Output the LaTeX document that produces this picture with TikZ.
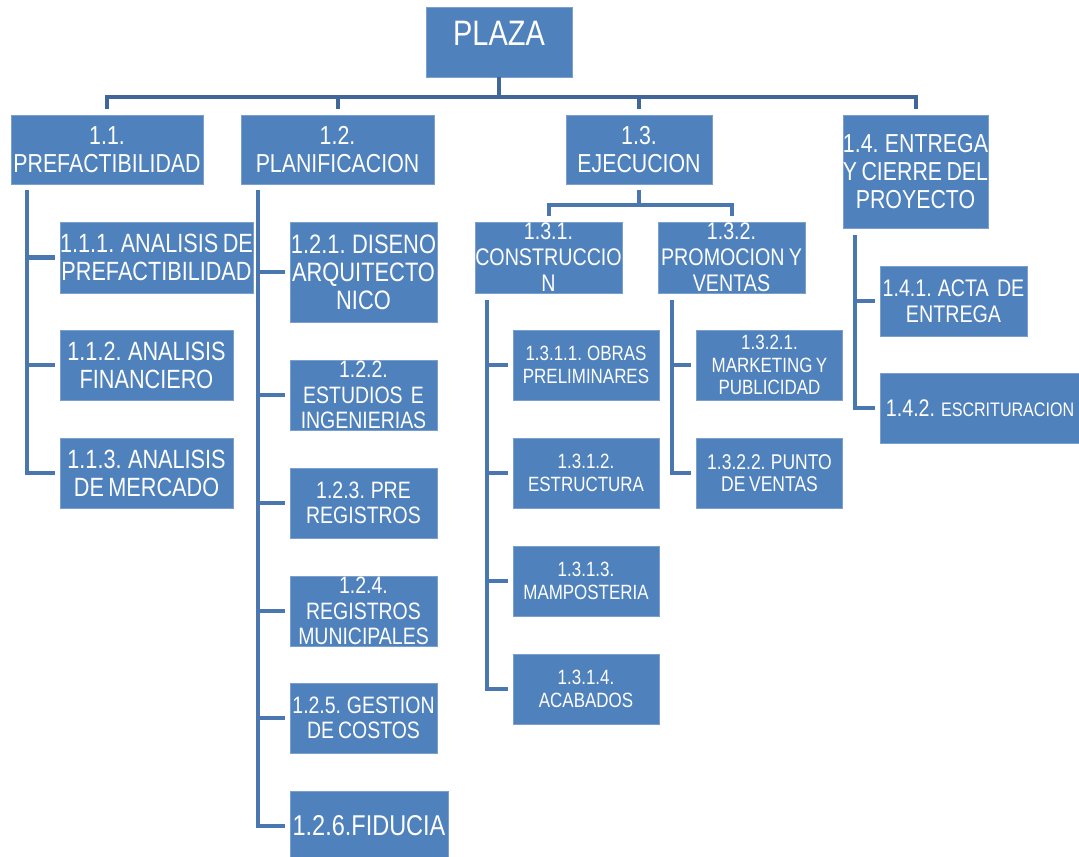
\documentclass[tikz,border=0pt]{standalone}
\usepackage{fontspec}
\setmainfont{Liberation Sans}[FakeStretch=0.82,WordSpace=0.75]

\definecolor{wbsfill}{RGB}{79,129,189}
\definecolor{wbsline}{RGB}{74,119,176}
\definecolor{wbsbus}{RGB}{63,103,154}

\tikzset{
  wbsbox/.style={fill=wbsfill, draw=wbsfill!75!white, line width=0.4pt, text=white, inner sep=0pt, align=center},
  bw/.style={minimum width=#1*0.75pt},
  bh/.style={minimum height=#1*0.75pt},
  bus/.style={draw=wbsbus, line width=3pt},
  branch/.style={draw=wbsline, line width=3.2pt, shorten >=3.75pt},
  lvlone/.style={font=\fontsize{19.5}{21}\selectfont},
  lvltwo/.style={font=\fontsize{19.8}{21}\selectfont},
  lvlsmall/.style={font=\fontsize{17.8}{19}\selectfont},
  lvlsub/.style={font=\fontsize{18}{19.5}\selectfont},
  lvlleaf/.style={font=\fontsize{15.5}{16.8}\selectfont}
}

\begin{document}
\begin{tikzpicture}[x=0.75pt,y=0.75pt,yscale=-1,xscale=1]
        \useasboundingbox (0,0) rectangle (1079,857);

        % Root
        \node [wbsbox, bw=146, bh=70] (plaza) at (499,42) {};
        \node [text=white, font=\fontsize{26.5}{30}\selectfont] (plazatxt) at (499,33) {PLAZA};

        % First level
        \node [wbsbox, bw=192, bh=69, lvlone] (p11) at (107,149.5) {1.1.\\PREFACTIBILIDAD};
        \node [wbsbox, bw=193, bh=69, lvlone] (p12) at (337.5,149.5) {1.2.\\PLANIFICACION};
        \node [wbsbox, bw=146, bh=69, lvlone] (p13) at (639,149.5) {1.3.\\EJECUCION};
        \node [wbsbox, bw=145, bh=113, lvlone] (p14) at (915.5,171.5) {1.4. ENTREGA\\Y CIERRE DEL\\PROYECTO};

        % Under 1.1
        \node [wbsbox, bw=193, bh=71, lvltwo] (p111) at (156.5,257.5) {1.1.1. ANALISIS DE\\PREFACTIBILIDAD};
        \node [wbsbox, bw=173, bh=70, lvltwo] (p112) at (146.5,365) {1.1.2. ANALISIS\\FINANCIERO};
        \node [wbsbox, bw=173, bh=70, lvltwo] (p113) at (146.5,473) {1.1.3. ANALISIS\\DE MERCADO};

        % Under 1.2
        \node [wbsbox, bw=147, bh=100, font=\fontsize{20}{21}\selectfont] (p121) at (363.5,272) {1.2.1. DISENO\\ARQUITECTO\\NICO};
        \node [wbsbox, bw=147, bh=70, lvlsmall] (p122) at (363.5,395) {1.2.2.\\ESTUDIOS~ E\\INGENIERIAS};
        \node [wbsbox, bw=147, bh=70, lvlsmall] (p123) at (363.5,503) {1.2.3. PRE\\REGISTROS};
        \node [wbsbox, bw=147, bh=70, lvlsmall] (p124) at (363.5,611) {1.2.4.\\REGISTROS\\MUNICIPALES};
        \node [wbsbox, bw=147, bh=70, lvlsmall] (p125) at (363.5,718) {1.2.5. GESTION\\DE COSTOS};
        \node [wbsbox, bw=158, bh=70, font=\fontsize{21.5}{23}\selectfont] (p126) at (369,826) {1.2.6.FIDUCIA};

        % Under 1.3
        \node [wbsbox, bw=147, bh=71, lvlsub] (p131) at (548.5,257.5) {1.3.1.\\CONSTRUCCIO\\N};
        \node [wbsbox, bw=147, bh=71, lvlsub] (p132) at (731.5,257.5) {1.3.2.\\PROMOCION Y\\VENTAS};
        \node [wbsbox, bw=146, bh=70, lvlleaf] (p1311) at (586,365) {1.3.1.1. OBRAS\\PRELIMINARES};
        \node [wbsbox, bw=146, bh=70, lvlleaf] (p1312) at (586,473) {1.3.1.2.\\ESTRUCTURA};
        \node [wbsbox, bw=146, bh=70, lvlleaf] (p1313) at (586,581) {1.3.1.3.\\MAMPOSTERIA};
        \node [wbsbox, bw=146, bh=70, lvlleaf] (p1314) at (586,689) {1.3.1.4.\\ACABADOS};
        \node [wbsbox, bw=146, bh=70, lvlleaf] (p1321) at (769.5,365) {1.3.2.1.\\MARKETING Y\\PUBLICIDAD};
        \node [wbsbox, bw=146, bh=70, font=\fontsize{16}{17}\selectfont] (p1322) at (769.5,473) {1.3.2.2. PUNTO\\DE VENTAS};

        % Under 1.4
        \node [wbsbox, bw=147, bh=70, lvlsub] (p141) at (953.5,301) {1.4.1. ACTA~ DE\\ENTREGA};
        \node [wbsbox, bw=200, bh=70, lvlsub] (p142) at (980,408) {1.4.2. {\fontsize{14.7}{16}\selectfont ESCRITURACION}};

        % Main bus
        \coordinate (bus) at (499,97);
        \draw [bus] (plaza.south) -- (bus);
        \draw [bus, shorten <=4.5pt, shorten >=4.5pt] (p11.north) |- (bus) -| (p14.north);
        \draw [bus, shorten <=4.5pt] (p12.north) -- (p12.north |- bus);
        \draw [bus, shorten <=4.5pt] (p13.north) -- (p13.north |- bus);

        % Bus below 1.3
        \coordinate (bus13) at (639,205);
        \draw [bus, wbsline, shorten <=4.5pt] (p13.south) -- (bus13);
        \draw [bus, wbsline, shorten <=4.5pt, shorten >=4.5pt] (p131.north) |- (bus13) -| (p132.north);

        % Spines
        \coordinate (spine11) at (27,190);
        \coordinate (spine12) at (258,190);
        \coordinate (spine131) at (487,300);
        \coordinate (spine132) at (672,300);
        \coordinate (spine14) at (855,235);
        \foreach \k in {p111,p112,p113} \draw [branch] (spine11) |- (\k.west);
        \foreach \k in {p121,p122,p123,p124,p125,p126} \draw [branch] (spine12) |- (\k.west);
        \foreach \k in {p1311,p1312,p1313,p1314} \draw [branch] (spine131) |- (\k.west);
        \foreach \k in {p1321,p1322} \draw [branch] (spine132) |- (\k.west);
        \foreach \k in {p141,p142} \draw [branch] (spine14) |- (\k.west);

\end{tikzpicture}
\end{document}
